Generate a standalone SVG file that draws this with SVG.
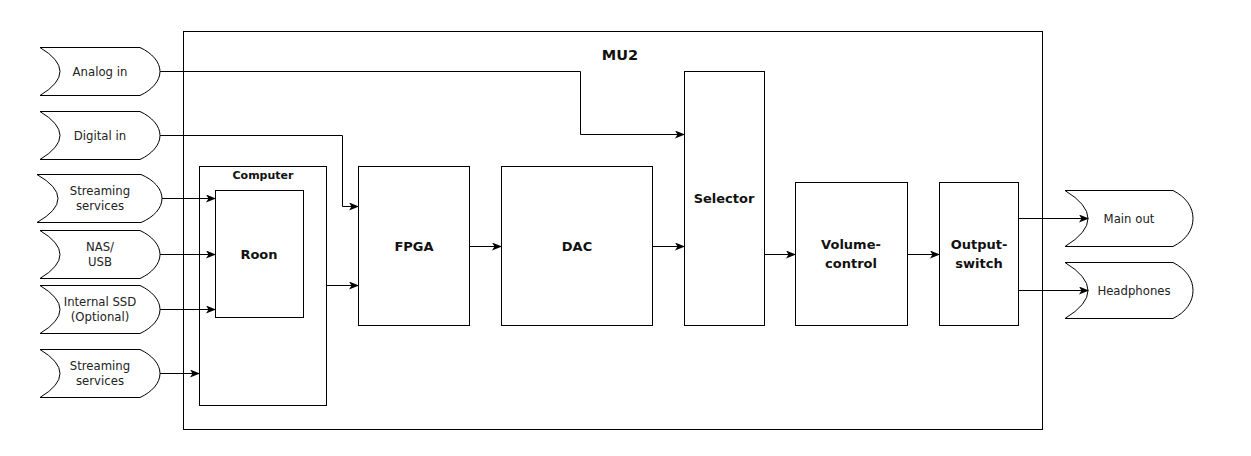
<svg xmlns="http://www.w3.org/2000/svg" width="1251" height="456" viewBox="0 0 1251 456">
<defs>
<marker id="arr" viewBox="0 0 10 8" refX="9" refY="4" markerWidth="10" markerHeight="8" markerUnits="userSpaceOnUse" orient="auto">
<path d="M0,0 L10,4 L0,8 L2.5,4 z" fill="#000"/>
</marker>
</defs>
<style>
.box{fill:#fff;stroke:#000;stroke-width:1}
.io{fill:#fff;stroke:#000;stroke-width:1}
.t{font-family:"DejaVu Sans",sans-serif;font-size:11.7px;fill:#222;text-anchor:middle}
.b{font-family:"DejaVu Sans",sans-serif;font-size:13px;font-weight:bold;fill:#111;text-anchor:middle}
.c{fill:none;stroke:#000;stroke-width:1}
</style>
<rect width="1251" height="456" fill="#fff"/>
<g id="mu2">
<rect class="box" x="183.5" y="31.5" width="859" height="398"/>
<text class="b" x="620" y="60" style="font-size:14.5px">MU2</text>
</g>
<g id="computer">
<rect class="box" x="199.5" y="166.5" width="127" height="239"/>
<text class="b" x="263" y="179" style="font-size:11px">Computer</text>
</g>
<g id="roon">
<rect class="box" x="215.5" y="190.5" width="88" height="127"/>
<text class="b" x="259" y="258.5">Roon</text>
</g>
<g id="fpga">
<rect class="box" x="358.5" y="166.5" width="111" height="159"/>
<text class="b" x="414" y="250.5">FPGA</text>
</g>
<g id="dac">
<rect class="box" x="501.5" y="166.5" width="151" height="159"/>
<text class="b" x="577" y="250.5">DAC</text>
</g>
<g id="selector">
<rect class="box" x="684.5" y="71.5" width="80" height="254"/>
<text class="b" x="724" y="202.5">Selector</text>
</g>
<g id="volume">
<rect class="box" x="795.5" y="182.5" width="112" height="143"/>
<text class="b" x="851" y="249">Volume-</text>
<text class="b" x="851" y="267.5">control</text>
</g>
<g id="outswitch">
<rect class="box" x="939.5" y="182.5" width="79" height="143"/>
<text class="b" x="979" y="249">Output-</text>
<text class="b" x="979" y="267.5">switch</text>
</g>
<g id="analog-in">
<path class="io" d="M40,47.5 L140,47.5 C152,53 160,62 160,71.5 C160,81 152,90 140,95.5 L40,95.5 Q80,71.5 40,47.5 z"/>
<text class="t" x="100" y="75.5">Analog in</text>
</g>
<g id="digital-in">
<path class="io" d="M40,111.5 L140,111.5 C152,117 160,126 160,135.5 C160,145 152,154 140,159.5 L40,159.5 Q80,135.5 40,111.5 z"/>
<text class="t" x="100" y="139.5">Digital in</text>
</g>
<g id="streaming-1">
<path class="io" d="M37,174.5 L141,174.5 C154,180 162,189 162,198.5 C162,208 154,217 141,222.5 L37,222.5 Q79,198.5 37,174.5 z"/>
<text class="t" x="100" y="194.5">Streaming</text>
<text class="t" x="100" y="209.5">services</text>
</g>
<g id="nas-usb">
<path class="io" d="M40,230.5 L140,230.5 C152,236 160,245 160,254.5 C160,264 152,273 140,278.5 L40,278.5 Q80,254.5 40,230.5 z"/>
<text class="t" x="100" y="250.5">NAS/</text>
<text class="t" x="100" y="265.5">USB</text>
</g>
<g id="internal-ssd">
<path class="io" d="M40,285.5 L140,285.5 C152,291 160,300 160,309.5 C160,319 152,328 140,333.5 L40,333.5 Q80,309.5 40,285.5 z"/>
<text class="t" x="100" y="305.5">Internal SSD</text>
<text class="t" x="100" y="320.5">(Optional)</text>
</g>
<g id="streaming-2">
<path class="io" d="M40,349.5 L140,349.5 C152,355 160,364 160,373.5 C160,383 152,392 140,397.5 L40,397.5 Q80,373.5 40,349.5 z"/>
<text class="t" x="100" y="369.5">Streaming</text>
<text class="t" x="100" y="384.5">services</text>
</g>
<g id="main-out">
<path class="io" d="M1065,190.5 L1173,190.5 C1186,197 1193,207 1193,218.5 C1193,230 1186,240 1173,246.5 L1065,246.5 Q1111,218.5 1065,190.5 z"/>
<text class="t" x="1129" y="222.5">Main out</text>
</g>
<g id="headphones">
<path class="io" d="M1065,262.5 L1173,262.5 C1186,269 1193,279 1193,290.5 C1193,302 1186,312 1173,318.5 L1065,318.5 Q1111,290.5 1065,262.5 z"/>
<text class="t" x="1134" y="294.5">Headphones</text>
</g>
<g id="connectors">
<path class="c" d="M160,71.5 H580.5 V134.5 H684" marker-end="url(#arr)"/>
<path class="c" d="M160,135.5 H342.5 V206.5 H358" marker-end="url(#arr)"/>
<path class="c" d="M162,198.5 H215" marker-end="url(#arr)"/>
<path class="c" d="M160,254.5 H215" marker-end="url(#arr)"/>
<path class="c" d="M160,309.5 H215" marker-end="url(#arr)"/>
<path class="c" d="M160,373.5 H199" marker-end="url(#arr)"/>
<path class="c" d="M327,285.5 H358" marker-end="url(#arr)"/>
<path class="c" d="M470,246.5 H501" marker-end="url(#arr)"/>
<path class="c" d="M653,246.5 H684" marker-end="url(#arr)"/>
<path class="c" d="M765,254.5 H795" marker-end="url(#arr)"/>
<path class="c" d="M908,254.5 H939" marker-end="url(#arr)"/>
<path class="c" d="M1019,218.5 H1088" marker-end="url(#arr)"/>
<path class="c" d="M1019,290.5 H1088" marker-end="url(#arr)"/>
</g>
</svg>
